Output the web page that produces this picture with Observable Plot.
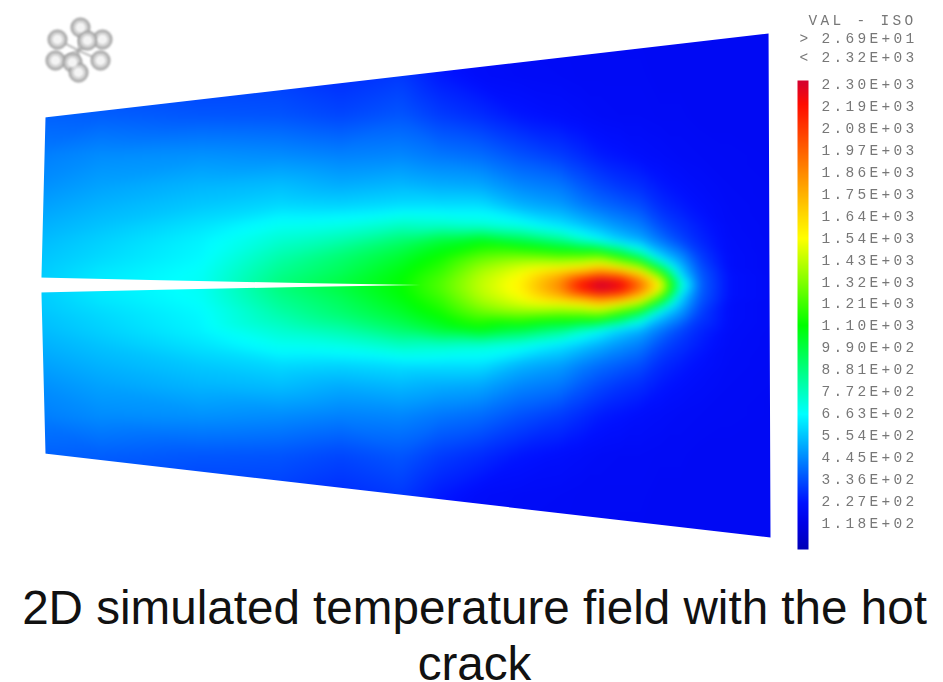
<!DOCTYPE html>
<html><head><meta charset="utf-8">
<script src="https://cdn.jsdelivr.net/npm/d3@7"></script>
<script src="https://cdn.jsdelivr.net/npm/@observablehq/plot@0.6"></script>
<style>
html,body{margin:0;padding:0;background:#fff;overflow:hidden}
#title{font-family:"Liberation Sans",Arial,sans-serif;font-size:47.6px;line-height:56px;color:#111;text-align:center;width:943px;margin-top:10px;padding-left:6px;box-sizing:border-box;white-space:nowrap}
svg{display:block}
</style></head><body>
<div id="chart"></div>
<div id="title">2D simulated temperature field with the hot<br>crack</div>
<script>
// distance of each row from the crack line (picture units)
const rowOffsets = [0,5,10,15,20,30,45,60,80,100,130,170,210,270];
const centreLine = 285;
// temperature read along each column, from the crack line outwards
const col030 = [560,560,558,556,555,545,530,510,480,450,420,370,330,300];
const col100 = [625,624,620,615,605,590,575,550,520,490,450,365,315,280];
const col200 = [675,672,670,668,660,650,640,610,560,525,460,350,300,260];
const col280 = [890,880,865,850,835,800,740,680,590,540,450,345,300,260];
const col340 = [990,980,960,945,930,900,800,700,580,510,430,320,270,230];
const col400 = [1100,1095,1085,1070,1050,1010,910,760,600,530,440,350,295,260];
const col440 = [1240,1230,1210,1185,1165,1110,1000,750,600,510,410,300,235,200];
const col480 = [1430,1425,1410,1380,1340,1240,1060,730,600,500,390,270,200,190];
const col520 = [1580,1565,1540,1500,1450,1280,970,690,520,440,340,230,190,180];
const col560 = [1880,1840,1760,1620,1480,1230,860,610,480,410,300,210,185,180];
const col580 = [2200,2120,1900,1680,1520,1230,760,560,430,360,270,200,180,180];
const col600 = [2350,2280,2020,1800,1600,1250,660,510,390,320,240,190,180,180];
const col620 = [2270,2190,1950,1700,1480,1080,570,460,360,290,225,185,180,175];
const col640 = [1950,1880,1720,1530,1320,850,510,420,330,270,210,185,180,175];
const col660 = [1560,1500,1300,1100,850,570,410,330,270,235,200,180,175,175];
const col680 = [760,700,610,570,530,450,320,280,240,215,190,180,175,175];
const col700 = [370,365,360,345,330,300,260,240,215,200,185,175,175,175];
const col730 = [215,215,215,210,205,205,200,195,190,185,180,175,175,175];
const col790 = [175,175,175,175,175,175,175,175,175,175,175,175,175,175];
const columns = [[30,col030],[100,col100],[200,col200],[280,col280],[340,col340],[400,col400],[440,col440],[480,col480],[520,col520],[560,col560],[580,col580],[600,col600],[620,col620],[640,col640],[660,col660],[680,col680],[700,col700],[730,col730],[790,col790]];

// colour bar levels and their printed labels
const tickLabels = ["2.30E+03","2.19E+03","2.08E+03","1.97E+03","1.86E+03","1.75E+03","1.64E+03","1.54E+03","1.43E+03","1.32E+03","1.21E+03","1.10E+03","9.90E+02","8.81E+02","7.72E+02","6.63E+02","5.54E+02","4.45E+02","3.36E+02","2.27E+02","1.18E+02"];
const tickValues = tickLabels.map(Number);
const tickRows = [84,106,128,150,172,194,216,238,260,282,303,325,347,369,391,413,435,457,479,501,523];
const headerRows = [["VAL - ISO",808,20],[">",799,38],["2.69E+01",821,38],["<",799,57],["2.32E+03",821,57]];

const colorStops = [27,118,220,660,1100,1540,2200,2320];
const colorRange = ["#0000b4","#0000e6","#0010ff","#00ffff","#00ff00","#ffff00","#ff0c00","#d20032"];

// plate outline
const maskTop = [[0,0],[810,0],[810,33],[768,33],[44,117],[0,117]];
const maskBottom = [[0,570],[810,570],[810,537],[770,537],[44,453],[0,453]];
const maskLeft = [[0,100],[45,100],[45,117],[41,276],[41,294],[45,453],[45,470],[0,470]];
const maskRight = [[768,20],[795,20],[795,560],[770,560],[770,537]];
const crack = [[38,277],[150,279.5],[300,282.5],[420,284.5],[300,286.5],[150,289.5],[38,292]];

// orientation triad icon
const ballX = [80,57,102,87,55,72,100,78];
const ballY = [27,39,39,40,60,62,60,72];
const triadSpokes = [[78,50,80,27],[78,50,57,39],[78,50,102,39],[78,50,55,60],[78,50,100,60],[78,50,78,72],[78,50,72,62],[78,50,87,40]];

const field = [];
for (const [x, vals] of columns) rowOffsets.forEach((d,i)=>{
  field.push({x,y:centreLine-d,v:vals[i]});
  if (d>0) field.push({x,y:centreLine+d,v:vals[i]});
});
const bar = [];
const barRows = [78,...tickRows,550];
const barVals = [2320,...tickValues,27];
barRows.forEach((y,i)=>{bar.push({x:790,y,v:barVals[i]});bar.push({x:815,y,v:barVals[i]});});
const pts = a=>a.map(([x,y])=>({x,y}));
const poly = a=>Plot.line(pts(a),{x:"x",y:"y",fill:"white",stroke:"none"});
const balls = ballX.map((x,i)=>({x,y:ballY[i]}));

const plot = Plot.plot({
  width:943,height:570,margin:0,
  x:{domain:[0,943],range:[0,943],axis:null},
  y:{domain:[0,570],range:[0,570],axis:null},
  color:{type:"linear",domain:colorStops,range:colorRange,interpolate:"rgb"},
  marks:[
    Plot.raster(field,{x:"x",y:"y",fill:"v",interpolate:"barycentric",x1:30,x2:790,y1:15,y2:555,pixelSize:1,blur:4}),
    poly(maskTop),poly(maskBottom),poly(maskLeft),poly(maskRight),poly(crack),
    Plot.raster(bar,{x:"x",y:"y",fill:"v",interpolate:"barycentric",x1:797,x2:808,y1:80,y2:549,pixelSize:1}),
    Plot.link(triadSpokes,{x1:d=>d[0],y1:d=>d[1],x2:d=>d[2],y2:d=>d[3],stroke:"#aaa",strokeWidth:1.5,className:"soft"}),
    Plot.dot(balls,{x:"x",y:"y",r:9,fill:"#cfcfcf",stroke:"#a0a0a0",strokeWidth:2,className:"soft"}),
    Plot.dot(balls,{x:"x",y:"y",r:5,fill:"#f4f4f4",stroke:"none",className:"soft"}),
    Plot.text(tickLabels,{x:()=>821,y:(d,i)=>tickRows[i],text:d=>d,textAnchor:"start",fill:"#777",className:"lab"}),
    Plot.text(headerRows,{x:d=>d[1],y:d=>d[2],text:d=>d[0],textAnchor:"start",fill:"#777",className:"lab"})
  ]
});
document.getElementById("chart").append(plot);
plot.style.filter="blur(0.5px)";
d3.select(plot).selectAll(".lab").style("font-family","'Liberation Mono',monospace").style("font-size","14.5px").style("letter-spacing","3.3px").style("filter","blur(0.4px)");
d3.select(plot).selectAll(".soft").style("filter","blur(0.8px)");
</script>
</body></html>
